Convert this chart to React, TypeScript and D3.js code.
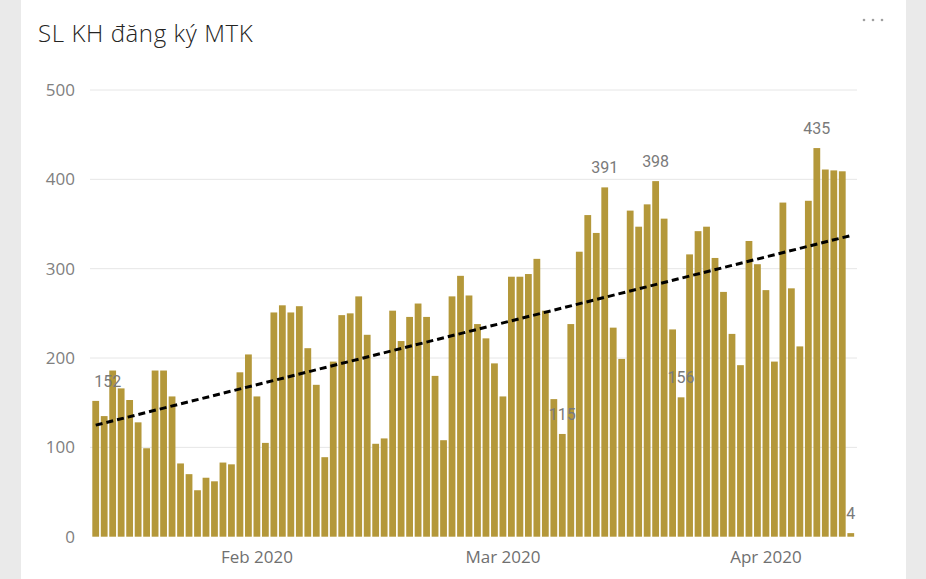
import React, { useEffect, useRef } from 'react';
import * as d3 from 'd3';

// daily registrations, starting 13 Jan 2020
const startDay = new Date(2020, 0, 13);
const counts: number[] = [
  152, 135, 186, 166, 153, 128, 99, 186, 186, 157, 82, 70, 52, 66, 62,
  83, 81, 184, 204, 157, 105, 251, 259, 251, 258, 211, 170, 89, 196, 248,
  250, 269, 226, 104, 110, 253, 219, 246, 261, 246, 180, 108, 269, 292, 270,
  238, 222, 194, 157, 291, 291, 294, 311, 253, 154, 115, 238, 319, 360, 340,
  391, 234, 199, 365, 347, 372, 398, 356, 232, 156, 316, 342, 347, 312, 274,
  227, 192, 331, 305, 276, 196, 374, 278, 213, 376, 435, 411, 410, 409, 4,
];
// bars that carry a data label
const labelled: number[] = [0, 55, 60, 66, 69, 85, 89];
const yTicks: number[] = [0, 100, 200, 300, 400, 500];
const monthTicks: Date[] = [new Date(2020, 1, 1), new Date(2020, 2, 1), new Date(2020, 3, 1)];
const monthLabels: string[] = ['Feb 2020', 'Mar 2020', 'Apr 2020'];

const W = 926;
const H = 579;

export default function App() {
  const ref = useRef<SVGSVGElement>(null);

  useEffect(() => {
    if (!ref.current) return;
    const svg = d3.select(ref.current);
    svg.selectAll('*').remove();

    // page backdrop + card
    svg.append('rect').attr('width', W).attr('height', H).attr('fill', '#eaeaea');
    svg.append('rect').attr('x', 21).attr('y', 0).attr('width', 885).attr('height', H).attr('fill', '#fff');

    svg.append('text')
      .attr('x', 38).attr('y', 42)
      .attr('font-family', '"Open Sans", sans-serif')
      .attr('font-size', '24px')
      .attr('font-weight', 300)
      .attr('letter-spacing', '0.6px')
      .attr('fill', '#252423')
      .text('SL KH đăng ký MTK');

    [864, 873, 882].forEach(cx => {
      svg.append('circle').attr('cx', cx).attr('cy', 20).attr('r', 1.3).attr('fill', '#a0a0a0');
    });

    const x = d3.scaleBand<number>()
      .domain(d3.range(counts.length))
      .range([91.46, 855])
      .paddingInner(0.2)
      .paddingOuter(0.1);

    const y = d3.scaleLinear().domain([0, 500]).range([536.7, 90]);

    // gridlines
    svg.append('g')
      .selectAll('line')
      .data(yTicks.filter(t => t > 0))
      .join('line')
      .attr('x1', 90).attr('x2', 857)
      .attr('y1', d => y(d)).attr('y2', d => y(d))
      .attr('stroke', '#e6e6e6')
      .attr('stroke-width', 1);

    svg.append('g')
      .selectAll('text')
      .data(yTicks)
      .join('text')
      .attr('x', 75)
      .attr('y', d => y(d))
      .attr('dy', '0.35em')
      .attr('text-anchor', 'end')
      .attr('font-family', '"Open Sans", sans-serif')
      .attr('font-size', '17px')
      .attr('fill', '#808080')
      .text(d => d);

    // bars
    svg.append('g')
      .selectAll('rect')
      .data(counts)
      .join('rect')
      .attr('x', (_, i) => x(i)!)
      .attr('width', x.bandwidth())
      .attr('y', d => y(d))
      .attr('height', d => y(0) - y(d))
      .attr('fill', '#b4983a');

    // month labels
    const dayIndex = (d: Date) => d3.timeDay.count(startDay, d);
    svg.append('g')
      .selectAll('text')
      .data(monthTicks)
      .join('text')
      .attr('x', d => x(dayIndex(d))! + x.bandwidth() / 2)
      .attr('y', 557)
      .attr('dy', '0.35em')
      .attr('text-anchor', 'middle')
      .attr('font-family', '"Open Sans", sans-serif')
      .attr('font-size', '17px')
      .attr('fill', '#707070')
      .text((_, i) => monthLabels[i]);

    // linear trend line
    const n = counts.length;
    const mx = d3.mean(d3.range(n))!;
    const my = d3.mean(counts)!;
    let sxy = 0, sxx = 0;
    counts.forEach((v, i) => { sxy += (i - mx) * (v - my); sxx += (i - mx) * (i - mx); });
    const slope = sxy / sxx;
    const icpt = my - slope * mx;
    const cx = (i: number) => x(i)! + x.bandwidth() / 2;
    svg.append('line')
      .attr('x1', cx(0)).attr('y1', y(icpt))
      .attr('x2', cx(n - 1)).attr('y2', y(icpt + slope * (n - 1)))
      .attr('stroke', '#000')
      .attr('stroke-width', 3)
      .attr('stroke-dasharray', '7,4');

    // data labels
    svg.append('g')
      .selectAll('text')
      .data(labelled)
      .join('text')
      .attr('x', i => (i === 0 ? cx(i) + 12 : cx(i)))
      .attr('y', i => y(counts[i]) - 14)
      .attr('text-anchor', 'middle')
      .attr('font-family', 'Roboto, sans-serif')
      .attr('font-size', '16px')
      .attr('fill', '#7a7a7a')
      .text(i => counts[i]);
  }, []);

  return (
    <svg
      ref={ref}
      width={W}
      height={H}
      style={{ position: 'absolute', left: 0, top: 0, display: 'block' }}
    />
  );
}
